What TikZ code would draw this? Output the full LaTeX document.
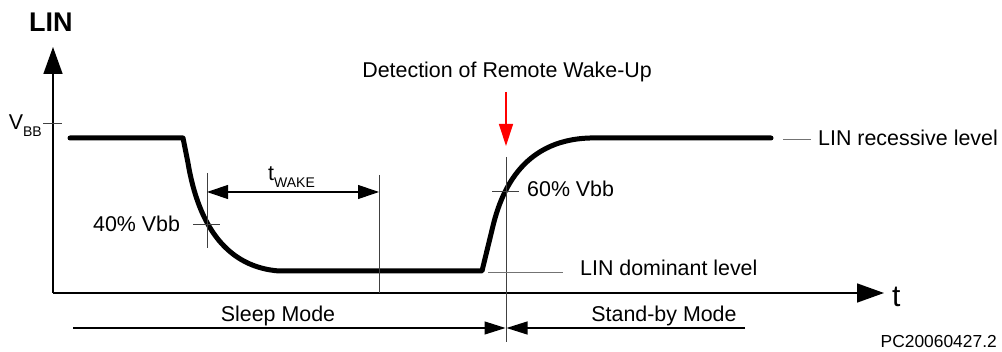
\documentclass[tikz,border=0pt]{standalone}
\usepackage{fontspec}
\setmainfont{Liberation Sans}
\usetikzlibrary{arrows.meta}
\tikzset{
  lbl/.style={inner sep=0pt, font=\fontsize{21.4}{24}\selectfont},
  sig/.style={line width=5pt, line cap=round, line join=round},
  axis/.style={line width=1.6pt, -{Triangle[length=27pt,width=19pt]}},
  thin/.style={line width=1pt, black!75},
  lead/.style={line width=1pt, black!55},
  modearr/.style={line width=1.1pt, -{Triangle[length=21pt,width=13pt]}},
  dimarr/.style={line width=1.1pt, {Triangle[length=21pt,width=14pt]}-{Triangle[length=21pt,width=14pt]}},
}
\newcommand{\subtxt}[1]{\raisebox{-0.3em}{\fontsize{14}{14}\selectfont #1}}
\begin{document}
\begin{tikzpicture}[x=1pt,y=-1pt]
\useasboundingbox (0,0) rectangle (1002,352);
% axes
\coordinate (O) at (53,293);
\coordinate (ytop) at (53,47);
\coordinate (xend) at (884,293);
\draw[axis] (O) -- (ytop);
\draw[axis] (O) -- (xend);
\node[inner sep=0pt, anchor=base west, font=\fontsize{27}{30}\selectfont\bfseries] (lin) at (29,32) {LIN};
\node[inner sep=0pt, anchor=base west, font=\fontsize{30}{32}\selectfont] (t) at (892,307) {t};
% VBB tick
\coordinate (vbbL) at (43,124);
\coordinate (vbbR) at (62,124);
\draw[thin] (vbbL) -- (vbbR);
\node[lbl, anchor=base east] (vbb) at (42,130) {V\subtxt{BB}};
% signal
\coordinate (s0) at (70,138);
\coordinate (s1) at (183,138);
\coordinate (s2) at (188,163);
\coordinate (s3) at (279,271);
\coordinate (s4) at (482,271);
\coordinate (s5) at (492,230);
\coordinate (s6) at (590,138);
\coordinate (s7) at (771,138);
\draw[sig] (s0) -- (s1) -- (s2) .. controls (199,228) and (228,267) .. (s3) -- (s4) -- (s5) .. controls (500,195) and (520,140) .. (s6) -- (s7);
% 40% marker
\coordinate (f40t) at (207,173);
\coordinate (f40b) at (207,248);
\coordinate (f40l) at (193,225);
\coordinate (f40r) at (220,225);
\draw[thin] (f40t) -- (f40b);
\draw[thin] (f40l) -- (f40r);
\node[lbl, anchor=base west] (p40) at (93,232) {40\% Vbb};
% tWAKE
\coordinate (tw1) at (207,192);
\coordinate (tw2) at (379,192);
\coordinate (twt) at (379,175);
\coordinate (twb) at (379,293);
\draw[thin] (twt) -- (twb);
\draw[dimarr] (tw1) -- (tw2);
\node[lbl, anchor=base west] (twake) at (268,181) {t\subtxt{WAKE}};
% 60% marker
\coordinate (r60t) at (506,157);
\coordinate (r60b) at (506,342);
\coordinate (r60l) at (492,192);
\coordinate (r60r) at (519,192);
\draw[thin] (r60t) -- (r60b);
\draw[thin] (r60l) -- (r60r);
\node[lbl, anchor=base west] (p60) at (527,197) {60\% Vbb};
% detection
\node[lbl, anchor=base east] (det) at (652,78) {Detection of Remote Wake-Up};
\coordinate (ra1) at (506,92);
\coordinate (ra2) at (506,146);
\draw[red, line width=1.3pt, -{Triangle[length=22pt,width=14pt]}] (ra1) -- (ra2);
% levels
\coordinate (dl1) at (488,273);
\coordinate (dl2) at (563,273);
\draw[lead] (dl1) -- (dl2);
\node[lbl, anchor=base west] (dom) at (580,276) {LIN dominant level};
\coordinate (rl1) at (783,140);
\coordinate (rl2) at (811,140);
\draw[lead] (rl1) -- (rl2);
\node[lbl, anchor=base west] (rec) at (818,146) {LIN recessive level};
% modes
\coordinate (m0) at (73,328);
\coordinate (mL) at (505.5,328);
\coordinate (mR) at (506.5,328);
\coordinate (m1) at (745,328);
\draw[modearr] (m0) -- (mL);
\draw[modearr] (m1) -- (mR);
\node[lbl, anchor=base] (sleep) at (278,322) {Sleep Mode};
\node[lbl, anchor=base] (stby) at (664,322) {Stand-by Mode};
\node[inner sep=0pt, anchor=base east, font=\fontsize{17.4}{19}\selectfont] (pc) at (997,348) {PC20060427.2};
\end{tikzpicture}
\end{document}
